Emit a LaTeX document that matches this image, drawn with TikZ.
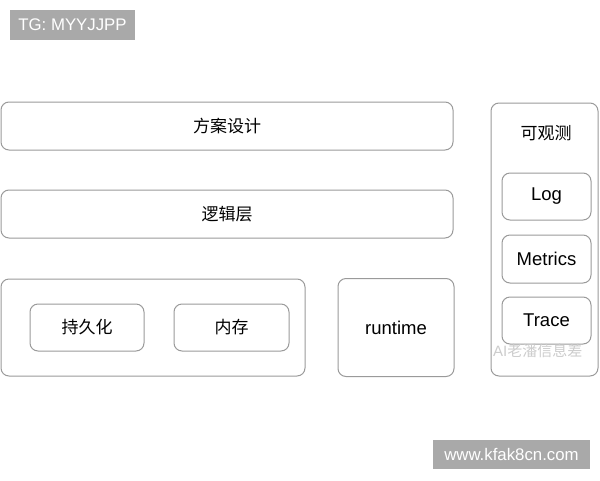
\documentclass[tikz,border=0pt]{standalone}
\usepackage{fontspec}
\setmainfont{Liberation Sans}
\newfontfamily\cjk{Noto Sans CJK SC}
\usepackage{xcolor}
\definecolor{boxline}{HTML}{9A9A9A}
\definecolor{tagfill}{HTML}{A9A9A9}
\definecolor{markgray}{HTML}{CCCCCC}
\newcommand{\zh}[1]{{\cjk\fontsize{17}{20}\selectfont #1}}

\tikzset{
  layer/.style={draw=boxline, line width=1pt, rounded corners=8pt, inner sep=0pt,
    font=\fontsize{18.5}{22}\selectfont},
  tag/.style={fill=tagfill, text=white, inner sep=0pt,
    font=\fontsize{16.8}{20}\selectfont}
}

\begin{document}
\begin{tikzpicture}[x=1pt,y=-1pt]
        \useasboundingbox (0,0) rectangle (600,480);
        % tags
        \node[tag, minimum width=125pt, minimum height=30pt] (tg) at (72.5,25) {TG: MYYJJPP};
        \node[tag, minimum width=157pt, minimum height=29pt] (site) at (511.5,454.5) {www.kfak8cn.com};
        % left column
        \node[layer, minimum width=452pt, minimum height=48pt] (plan) at (227,126) {\zh{方案设计}};
        \node[layer, minimum width=452pt, minimum height=48pt] (logic) at (227,214) {\zh{逻辑层}};
        \node[layer, minimum width=304pt, minimum height=97pt] (base) at (153,327.5) {};
        \node[layer, minimum width=114pt, minimum height=47pt] (persist) at (87,327.5) {\zh{持久化}};
        \node[layer, minimum width=115pt, minimum height=47pt] (memory) at (231.5,327.5) {\zh{内存}};
        \node[layer, minimum width=116pt, minimum height=98pt] (runtime) at (396,327.5) {runtime};
        % observability
        \node[layer, minimum width=107pt, minimum height=273pt] (observe) at (544.5,239.5) {};
        \node (observetitle) at (546,133) {\zh{可观测}};
        \node[layer, minimum width=89pt, minimum height=47pt] (log) at (546.5,196.5) {Log};
        \node[layer, minimum width=89pt, minimum height=48pt] (metrics) at (546.5,259) {Metrics};
        \node[layer, minimum width=89pt, minimum height=47pt] (trace) at (546.5,320.5) {Trace};
        % watermark
        \node[text=markgray, anchor=west, inner sep=0pt, font=\fontsize{15}{18}\selectfont] (mark) at (493,351) {AI\cjk 老潘信息差};
\end{tikzpicture}
\end{document}
